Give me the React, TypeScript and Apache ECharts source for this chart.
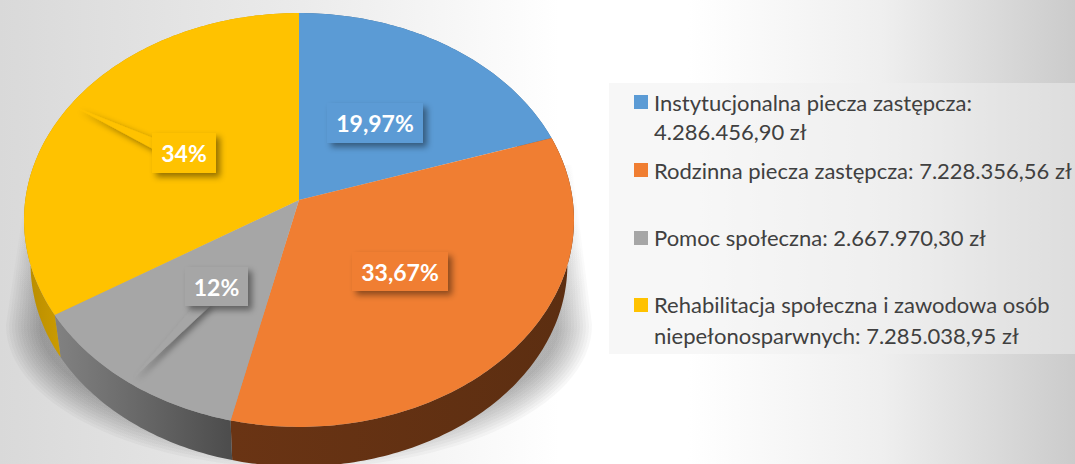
import React, { useEffect, useRef } from "react";
import * as echarts from "echarts";

const categories = [
  "Instytucjonalna piecza zastępcza",
  "Rodzinna piecza zastępcza",
  "Pomoc społeczna",
  "Rehabilitacja społeczna i zawodowa osób niepełnosparwnych",
];
const amounts = [4286456.9, 7228356.56, 2667970.3, 7285038.95];
const sliceLabels = ["19,97%", "33,67%", "12%", "34%"];
const legendLines = [
  ["Instytucjonalna piecza zastępcza:", "4.286.456,90 zł"],
  ["Rodzinna piecza zastępcza: 7.228.356,56 zł"],
  ["Pomoc społeczna: 2.667.970,30 zł"],
  ["Rehabilitacja społeczna i zawodowa osób", "niepełonosparwnych: 7.285.038,95 zł"],
];
const topColors = ["#5B9BD5", "#F07E32", "#A6A6A6", "#FFC200"];

const FONT = "Lato, Carlito, sans-serif";
const total = amounts.reduce((a, b) => a + b, 0);

// perspective projection of the unit disc
const CX = 299, CY = 200, AX = 273.7, BY = 205, K = 0.0966;
const project = (deg: number): [number, number] => {
  const t = (deg * Math.PI) / 180;
  const u = Math.sin(t), v = -Math.cos(t);
  const d = 1 - K * v;
  return [CX + (AX * u) / d, CY + (BY * v) / d];
};
const lower = (p: [number, number]): [number, number] => [CX + 0.976 * (p[0] - CX), 245 + 0.976 * (p[1] - CY)];
const arc = (a0: number, a1: number) => {
  const out: [number, number][] = [];
  const n = Math.max(2, Math.ceil(Math.abs(a1 - a0)));
  for (let i = 0; i <= n; i++) out.push(project(a0 + ((a1 - a0) * i) / n));
  return out;
};
const angles = (idx: number) => {
  let s = 0;
  for (let i = 0; i < idx; i++) s += amounts[i];
  return [(s / total) * 360, ((s + amounts[idx]) / total) * 360];
};

const g = (x0: number, x1: number, c0: string, c1: string) => ({
  type: "linear", x: x0, y: 0, x2: x1, y2: 0, global: true,
  colorStops: [{ offset: 0, color: c0 }, { offset: 1, color: c1 }],
});
const sideFills: any[] = [
  "#3f6c94",
  g(232, 575, "#6a3414", "#5c2e11"),
  g(60, 232, "#808080", "#4c4c4c"),
  g(25, 62, "#b88c00", "#cc9c00"),
];

// label boxes [x, y, w, h] and callout wedges
const boxes = [
  [327, 103, 96, 40],
  [352, 252, 96, 39],
  [185, 267, 63, 39],
  [152, 133, 64, 40],
];
const wedges: (number[][] | null)[] = [
  null,
  null,
  [[195, 305], [133, 378], [211, 305]],
  [[153, 138], [77, 108], [153, 149]],
];
const shadow = { shadowBlur: 6, shadowOffsetX: 4, shadowOffsetY: 4, shadowColor: "rgba(0,0,0,0.42)" };

export default function App() {
  const ref = useRef<HTMLDivElement>(null);
  useEffect(() => {
    document.body.style.margin = "0";
    const chart = echarts.init(ref.current!, null, { renderer: "svg" });
    const data = amounts.map((v, i) => ({ name: categories[i], value: v }));
    const legendY = [
      [102, 131],
      [170],
      [237],
      [304, 335],
    ];
    const legendSq = [95, 163, 231, 298];
    const graphics: any[] = [
      { type: "rect", shape: { x: 609, y: 83, width: 466, height: 271 }, style: { fill: "rgba(240,240,240,0.5)" }, silent: true, z: 1 },
    ];
    legendLines.forEach((lines, i) => {
      graphics.push({ type: "rect", shape: { x: 634, y: legendSq[i], width: 14, height: 14 }, style: { fill: topColors[i] }, z: 2, silent: true });
      lines.forEach((t, j) => {
        graphics.push({
          type: "text", x: 654, y: legendY[i][j], z: 2, silent: true,
          style: { text: t, fill: "#404040", font: `22px ${FONT}`, textVerticalAlign: "middle", textAlign: "left" },
        });
      });
    });
    const layers = 12;
    chart.setOption({
      animation: false,
      backgroundColor: {
        type: "linear", x: 0, y: 0, x2: 1, y2: 0,
        colorStops: [
          { offset: 0, color: "#d9d9d9" },
          { offset: 0.28, color: "#ebebeb" },
          { offset: 0.52, color: "#ffffff" },
          { offset: 0.64, color: "#ffffff" },
          { offset: 0.82, color: "#efefef" },
          { offset: 1, color: "#cbcbcb" },
        ],
      },
      graphic: graphics,
      series: [
        {
          type: "custom", name: "floor", coordinateSystem: "none", silent: true, data: [0],
          renderItem: () => {
            const children: any[] = [];
            for (let l = 0; l < layers; l++) {
              const inset = l * 3;
              const pts: number[][] = [[30 + inset * 0.3, 165], [572 - inset * 0.3, 165]];
              const rx = 293 - inset, ry = 143 - inset;
              for (let a = 0; a <= 180; a += 3) {
                const t = (a * Math.PI) / 180;
                pts.push([299 + rx * Math.cos(t), 325 + ry * Math.sin(t)]);
              }
              children.push({
                type: "polygon", shape: { points: pts },
                style: {
                  fill: {
                    type: "linear", x: 0, y: 165, x2: 0, y2: 330, global: true,
                    colorStops: [{ offset: 0, color: "rgba(0,0,0,0.005)" }, { offset: 1, color: "rgba(0,0,0,0.03)" }],
                  },
                },
              });
            }
            return { type: "group", children };
          },
        },
        {
          type: "custom", name: "sides", coordinateSystem: "none", silent: true, data,
          renderItem: (p: any) => {
            const [a0, a1] = angles(p.dataIndex);
            const top = arc(a0, a1);
            const bottom = top.map(lower).reverse();
            return { type: "polygon", shape: { points: [...top, ...bottom] }, style: { fill: sideFills[p.dataIndex] } };
          },
        },
        {
          type: "custom", name: "tops", coordinateSystem: "none", silent: true, data,
          renderItem: (p: any) => {
            const [a0, a1] = angles(p.dataIndex);
            return {
              type: "polygon",
              shape: { points: [[CX, CY], ...arc(a0, a1)] },
              style: { fill: topColors[p.dataIndex] },
            };
          },
        },
        {
          type: "custom", name: "labels", coordinateSystem: "none", silent: true, data,
          renderItem: (p: any) => {
            const i = p.dataIndex;
            const [x, y, w, h] = boxes[i];
            const children: any[] = [];
            if (wedges[i]) {
              children.push({ type: "polygon", shape: { points: wedges[i] }, style: { fill: topColors[i], ...shadow, shadowOffsetX: 3, shadowOffsetY: 3 } });
            }
            children.push({ type: "rect", shape: { x, y, width: w, height: h }, style: { fill: topColors[i], ...shadow } });
            children.push({
              type: "text", x: x + w / 2, y: y + h / 2,
              style: { text: sliceLabels[i], fill: "#ffffff", font: `bold 23px ${FONT}`, textAlign: "center", textVerticalAlign: "middle" },
            });
            return { type: "group", children };
          },
        },
      ],
    });
    return () => chart.dispose();
  }, []);
  return <div ref={ref} style={{ width: 1075, height: 464 }} />;
}
